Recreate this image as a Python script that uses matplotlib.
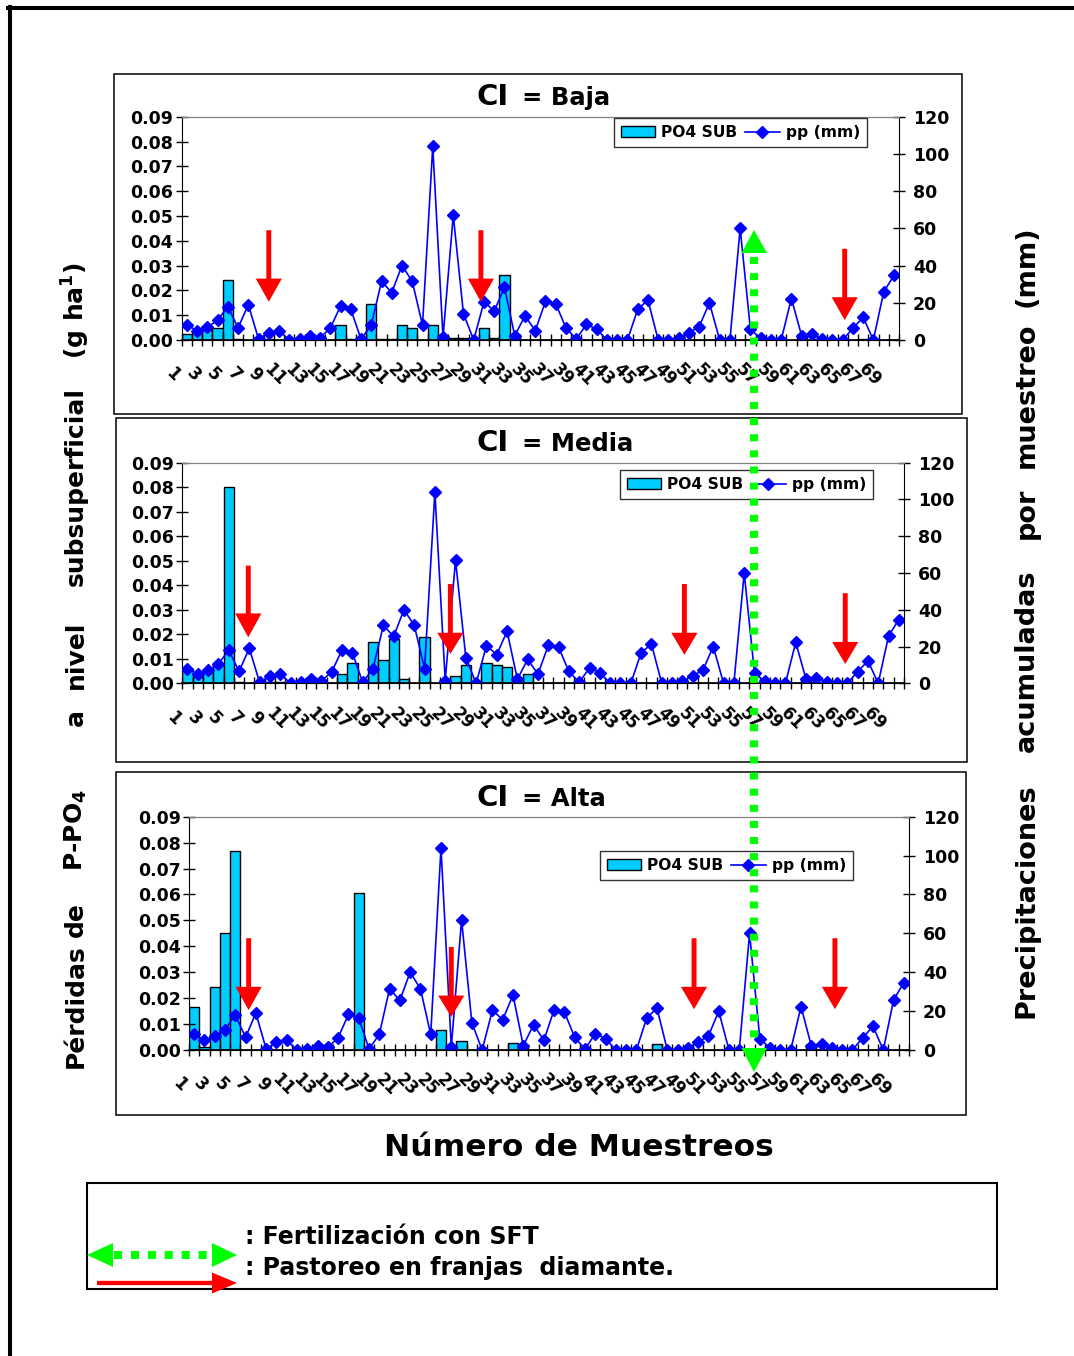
import matplotlib
matplotlib.use("Agg")
import matplotlib.pyplot as plt
from matplotlib.lines import Line2D
from matplotlib.patches import Rectangle, Polygon
from matplotlib.ticker import FormatStrFormatter
from matplotlib.transforms import ScaledTranslation, blended_transform_factory
import numpy as np

# ---- data ----
muestreos = list(range(1, 71))

# accumulated rainfall per sampling (mm), same series in the three panels
pp_mm = [8, 5, 7, 10.5, 18, 6.5, 19, 0.5, 4, 5,
         0, 0.5, 2.3, 1.3, 6.3, 18.3, 16.5, 0.5, 8, 31.5,
         25.5, 40, 31.5, 8, 104, 1.5, 67, 14, 0, 20.5,
         15.6, 28.3, 2.2, 13, 5, 20.7, 19.5, 6.5, 0.5, 8.4,
         5.8, 0, 0, 0, 16.5, 21.5, 0, 0, 1, 4,
         7.2, 20, 0, 0, 60, 5.7, 1, 0, 0, 22.3,
         2.2, 3, 0.8, 0, 0, 6.3, 12.2, 0, 25.7, 34.7]

# P-PO4 subsurface losses (g/ha)
po4_baja = [0.0023, 0.003, 0.004, 0.0047, 0.0242, 0.0005, 0, 0, 0.0005, 0,
            0, 0, 0.0004, 0.0004, 0, 0.006, 0.0005, 0, 0.0144, 0.0005,
            0.0005, 0.006, 0.0047, 0, 0.006, 0, 0.001, 0.0008, 0.0005, 0.0047,
            0.001, 0.0262, 0, 0, 0, 0, 0, 0, 0, 0,
            0, 0, 0, 0, 0, 0, 0, 0, 0, 0,
            0, 0, 0, 0, 0, 0, 0, 0, 0, 0,
            0, 0, 0, 0, 0, 0, 0.0003, 0, 0, 0]

po4_media = [0.006, 0.0025, 0.005, 0.0082, 0.080, 0.0005, 0, 0, 0.0005, 0.0005,
             0, 0, 0, 0.0005, 0, 0.0038, 0.0082, 0, 0.017, 0.0095,
             0.0182, 0.0019, 0, 0.019, 0, 0.0003, 0.003, 0.0075, 0.0005, 0.0082,
             0.0075, 0.0068, 0, 0.0037, 0, 0, 0, 0, 0, 0,
             0, 0, 0, 0, 0, 0.0003, 0, 0, 0, 0,
             0, 0, 0, 0, 0, 0, 0, 0, 0, 0,
             0.0003, 0, 0, 0, 0, 0, 0, 0, 0, 0]

po4_alta = [0.0167, 0.0013, 0.0244, 0.045, 0.0767, 0, 0, 0, 0, 0,
            0, 0, 0, 0, 0, 0, 0.0604, 0, 0, 0,
            0, 0, 0, 0, 0.0077, 0, 0.0036, 0, 0, 0,
            0, 0.0028, 0, 0, 0, 0, 0, 0, 0, 0,
            0, 0, 0, 0, 0, 0.0023, 0, 0, 0, 0,
            0, 0, 0, 0, 0, 0, 0, 0, 0, 0,
            0, 0, 0, 0, 0, 0, 0, 0, 0, 0]

niveles = ["Baja", "Media", "Alta"]
series_po4 = [po4_baja, po4_media, po4_alta]

# ---- layout (pixels of the 1074x1356 canvas) ----
W, H = 1074, 1356


def fx(px):
    return px / W


def fy(py):
    return 1 - py / H


# panel frame (x0, y0, x1, y1), plot area (left, top, right, bottom), title baseline, legend corner
paneles = [
    dict(box=(114, 74, 962, 414), area=(181.7, 116.7, 899, 340), titulo=105, leyenda=(614, 118)),
    dict(box=(116, 418, 967, 762), area=(182.3, 462.7, 904, 683.3), titulo=451, leyenda=(620, 470)),
    dict(box=(116, 772, 966, 1115), area=(189, 816.7, 909, 1050), titulo=806, leyenda=(600, 851)),
]
# grazing arrows: (muestreo position, top, head base, tip) in mm units of the right axis
flechas = [
    [(9.0, 59, 33, 20.5), (29.7, 59, 33, 20.5), (65.2, 49, 23, 10.7)],
    [(6.9, 64, 38, 25), (26.5, 54, 27.5, 16), (49.2, 54, 27.5, 15.5), (64.8, 49, 22.5, 10.5)],
    [(6.3, 57.5, 32.5, 20.5), (26.0, 53, 28, 17), (49.6, 57.5, 32.5, 21), (63.3, 57.5, 32.5, 21)],
]

plt.rcParams['font.family'] = 'DejaVu Sans'
plt.rcParams['font.weight'] = 'bold'
plt.rcParams['mathtext.default'] = 'bf'

CIAN = '#00CCFF'
AZUL = '#0000FF'
ROJO = '#FF0000'
VERDE = '#00FF00'
FS_TICK = 12.5

fig = plt.figure(figsize=(W / 100, H / 100), dpi=100)

for nivel, po4, pan, fl in zip(niveles, series_po4, paneles, flechas):
    x0, y0, x1, y1 = pan['box']
    fig.patches.append(Rectangle((fx(x0), fy(y1)), fx(x1) - fx(x0), fy(y0) - fy(y1),
                                 transform=fig.transFigure, fill=False,
                                 ec='black', lw=1.1))
    l, t, r, b = pan['area']
    ax = fig.add_axes([fx(l), fy(b), fx(r) - fx(l), fy(t) - fy(b)])
    barras = ax.bar(muestreos, po4, width=1.0, color=CIAN, edgecolor='black',
                    linewidth=1.0, label='PO4 SUB')
    ax.set_xlim(0.5, 70.5)
    ax.set_ylim(0, 0.09)
    ax.set_yticks(np.arange(0, 0.0901, 0.01))
    ax.yaxis.set_major_formatter(FormatStrFormatter('%.2f'))
    ax.tick_params(axis='y', direction='inout', length=8, width=1, pad=2,
                   labelsize=FS_TICK)
    ax.set_xticks(muestreos[::2])
    ax.set_xticks(np.arange(0.5, 71, 1), minor=True)
    ax.tick_params(axis='x', which='major', length=0, labelbottom=False)
    ax.tick_params(axis='x', which='minor', direction='inout', length=9, width=1)
    ax.spines['top'].set_color('#808080')
    ax.spines['right'].set_visible(False)
    ax.spines['bottom'].set_linewidth(1.2)

    # rotated sample numbers
    trans = blended_transform_factory(ax.transData, ax.transAxes) + \
        ScaledTranslation(-14 / 100, -35 / 100, fig.dpi_scale_trans)
    for m in muestreos[::2]:
        ax.text(m, 0, str(m), transform=trans, rotation=-45, ha='center',
                va='center', fontsize=12)

    ax2 = ax.twinx()
    linea, = ax2.plot(muestreos, pp_mm, '-', color=AZUL, lw=1.2, marker='D',
                      ms=6, label='pp (mm)')
    ax2.set_ylim(0, 120)
    ax2.set_yticks(range(0, 121, 20))
    ax2.tick_params(axis='y', direction='inout', length=8, width=1, pad=6,
                    labelsize=FS_TICK)
    ax2.spines['top'].set_color('#808080')
    ax2.spines['left'].set_visible(False)

    for (xm, top, base, tip) in fl:
        sw, hw = 0.24, 1.27
        pts = [(xm - sw, top), (xm + sw, top), (xm + sw, base), (xm + hw, base),
               (xm, tip), (xm - hw, base), (xm - sw, base)]
        ax2.add_patch(Polygon(pts, closed=True, color=ROJO, lw=0, zorder=5,
                              clip_on=False))

    lx, ly = pan['leyenda']
    leg = ax2.legend([barras, linea], ['PO4 SUB', 'pp (mm)'], ncol=2,
                     loc='upper left', bbox_to_anchor=(fx(lx), fy(ly)),
                     bbox_transform=fig.transFigure, fontsize=11.2,
                     frameon=True, fancybox=False, edgecolor='black',
                     borderpad=0.45, handletextpad=0.4, columnspacing=0.5,
                     handlelength=2.2, borderaxespad=0)
    leg.get_frame().set_linewidth(1.0)
    leg.set_zorder(6)

    fig.text(fx(476), fy(pan['titulo']), 'CI', fontsize=21, ha='left', va='baseline')
    fig.text(fx(522), fy(pan['titulo']), '= ' + nivel, fontsize=17.5, ha='left',
             va='baseline')

# axis titles, word by word as in the original justified labels
izq = [('Pérdidas', 1006), ('de', 920), (r'P-PO$_\mathbf{4}$', 830), ('a', 718),
       ('nivel', 655), ('subsuperficial', 487), (r'(g ha$^\mathbf{1}$)', 310)]
for palabra, yc in izq:
    fig.text(fx(76), fy(yc), palabra, rotation=90, ha='center', va='center',
             fontsize=18)
der = [('Precipitaciones', 901), ('acumuladas', 661), ('por', 513),
       ('muestreo', 395), ('(mm)', 266)]
for palabra, yc in der:
    fig.text(fx(1027), fy(yc), palabra, rotation=90, ha='center', va='center',
             fontsize=19.5)

fig.text(fx(579), fy(1147), 'Número de Muestreos', ha='center', va='center',
         fontsize=22.5)

# fertilization line across the three panels
fig.lines.append(Line2D([fx(754), fx(754)], [fy(257), fy(1046)],
                        transform=fig.transFigure, color=VERDE, lw=5.8,
                        dashes=(0.875, 1.125), zorder=10))
fig.patches.append(Polygon([(fx(741.5), fy(253)), (fx(767), fy(253)), (fx(754), fy(230))],
                           transform=fig.transFigure, color=VERDE, lw=0, zorder=10))
fig.patches.append(Polygon([(fx(741.5), fy(1048)), (fx(767), fy(1048)), (fx(754), fy(1072))],
                           transform=fig.transFigure, color=VERDE, lw=0, zorder=10))

# bottom key
fig.patches.append(Rectangle((fx(87), fy(1289)), fx(997) - fx(87), fy(1183) - fy(1289),
                             transform=fig.transFigure, fill=False, ec='black', lw=1.5))
fig.lines.append(Line2D([fx(114), fx(212)], [fy(1255), fy(1255)],
                        transform=fig.transFigure, color=VERDE, lw=5.8,
                        dashes=(1.0, 1.1), zorder=10))
fig.patches.append(Polygon([(fx(87), fy(1255)), (fx(113), fy(1243)), (fx(113), fy(1267))],
                           transform=fig.transFigure, color=VERDE, lw=0, zorder=10))
fig.patches.append(Polygon([(fx(237), fy(1255)), (fx(212), fy(1243)), (fx(212), fy(1267))],
                           transform=fig.transFigure, color=VERDE, lw=0, zorder=10))
fig.lines.append(Line2D([fx(97), fx(213)], [fy(1283), fy(1283)],
                        transform=fig.transFigure, color=ROJO, lw=3.1, zorder=10,
                        solid_capstyle='butt'))
fig.patches.append(Polygon([(fx(237), fy(1283)), (fx(212), fy(1272.5)), (fx(212), fy(1293.5))],
                           transform=fig.transFigure, color=ROJO, lw=0, zorder=10))
fig.text(fx(245), fy(1237), ': Fertilización con SFT', va='center', fontsize=17)
fig.text(fx(245), fy(1268), ': Pastoreo en franjas  diamante.', va='center', fontsize=17)

# page border (top and left)
fig.lines.append(Line2D([fx(8), 1], [fy(8), fy(8)], transform=fig.transFigure,
                        color='black', lw=2.9))
fig.lines.append(Line2D([fx(9.5), fx(9.5)], [fy(6.5), 0], transform=fig.transFigure,
                        color='black', lw=2.9))

fig.savefig('out.png', dpi=100)
plt.close(fig)
